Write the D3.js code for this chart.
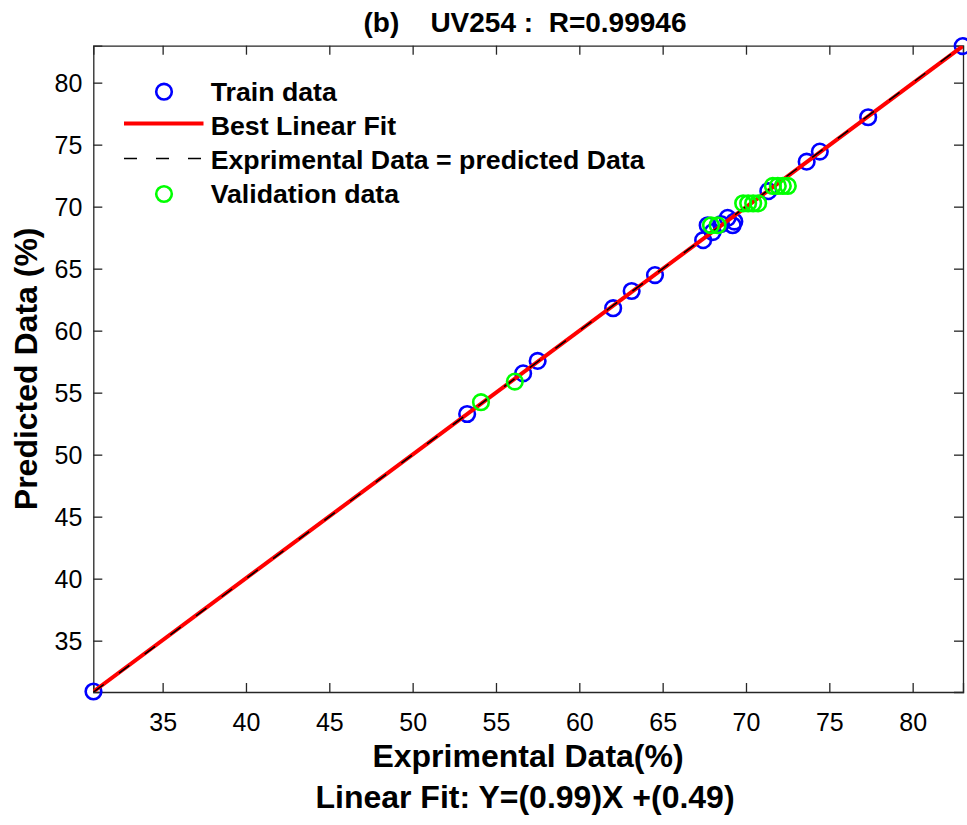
<!DOCTYPE html>
<html>
<head>
<meta charset="utf-8">
<script src="https://cdn.jsdelivr.net/npm/d3@7"></script>
<style>
  html, body { margin: 0; padding: 0; background: #fff; }
  svg { display: block; font-family: "Liberation Sans", Arial, sans-serif; }
</style>
</head>
<body>
<svg id="chart" width="967" height="825"></svg>
<script>
// ---- data ----
const trainX = [30.85, 53.27, 56.63, 57.50, 62.03, 63.14, 64.54, 67.43, 67.70, 68.00, 68.50, 68.90, 69.20, 69.30, 71.34, 73.64, 74.43, 77.33, 83.00];
const trainY = [30.90, 53.28, 56.56, 57.56, 61.81, 63.20, 64.48, 67.30, 68.50, 67.95, 68.60, 69.10, 68.50, 68.80, 71.25, 73.63, 74.44, 77.21, 82.95];
const validX = [54.10, 56.13, 67.90, 68.30, 69.83, 70.13, 70.43, 70.73, 71.61, 71.91, 72.21, 72.51];
const validY = [54.23, 55.89, 68.50, 68.50, 70.27, 70.27, 70.27, 70.27, 71.67, 71.67, 71.67, 71.67];
const fitCoef = [0.998, 0.11];          // slope, intercept of the drawn fit line
const xTicks = [35, 40, 45, 50, 55, 60, 65, 70, 75, 80];
const yTicks = [35, 40, 45, 50, 55, 60, 65, 70, 75, 80];
const xDomain = [30.84, 83.02];
const yDomain = [30.86, 82.98];
const legendLabels = ["Train data", "Best Linear Fit", "Exprimental Data = predicted Data", "Validation data"];
const titleText = "(b)    UV254 :  R=0.99946";
const xLabel = "Exprimental Data(%)";
const fitLabel = "Linear Fit: Y=(0.99)X +(0.49)";
const yLabel = "Predicted Data (%)";

// ---- layout ----
const L = 93.3, R = 963, T = 45.7, B = 692;
const svg = d3.select("#chart");
const x = d3.scaleLinear().domain(xDomain).range([L, R]);
const y = d3.scaleLinear().domain(yDomain).range([B, T]);
const axisColor = "#262626";
const tickLen = 9;
const dash = "13,19";

svg.append("defs").append("clipPath").attr("id", "clip")
  .append("rect").attr("x", L).attr("y", T).attr("width", R - L).attr("height", B - T);

// axes
const gx = svg.append("g").attr("transform", `translate(0,${B})`)
  .call(d3.axisBottom(x).tickValues(xTicks).tickSize(-tickLen).tickPadding(0).tickFormat(d3.format("d")));
const gxTop = svg.append("g").attr("transform", `translate(0,${T})`)
  .call(d3.axisTop(x).tickValues(xTicks).tickSize(-tickLen).tickFormat(""));
const gy = svg.append("g").attr("transform", `translate(${L},0)`)
  .call(d3.axisLeft(y).tickValues(yTicks).tickSize(-tickLen).tickPadding(0).tickFormat(d3.format("d")));
const gyR = svg.append("g").attr("transform", `translate(${R},0)`)
  .call(d3.axisRight(y).tickValues(yTicks).tickSize(-tickLen).tickFormat(""));

[gx, gxTop, gy, gyR].forEach(g => {
  g.select(".domain").attr("stroke", axisColor).attr("stroke-width", 1.3);
  g.selectAll(".tick line").attr("stroke", axisColor).attr("stroke-width", 1.3);
  g.selectAll(".tick text").attr("fill", "#000").style("font-size", "25px").style("font-family", "Liberation Sans, Arial, sans-serif");
});
gx.selectAll(".tick text").attr("y", 38.5).attr("dy", 0);
gy.selectAll(".tick text").attr("x", -11).attr("dy", "0.36em");

// train circles (markers not clipped, as in the reference)
svg.append("g").selectAll("circle").data(trainX.map((d, i) => [d, trainY[i]])).join("circle")
  .attr("cx", d => x(d[0])).attr("cy", d => y(d[1])).attr("r", 7.8)
  .attr("fill", "none").attr("stroke", "#0000ff").attr("stroke-width", 2.6);

// lines on top of train markers
const lines = svg.append("g").attr("clip-path", "url(#clip)");
const fx0 = d3.min(trainX), fx1 = d3.max(trainX);
lines.append("line")
  .attr("x1", x(fx0)).attr("y1", y(fitCoef[0] * fx0 + fitCoef[1]))
  .attr("x2", x(fx1)).attr("y2", y(fitCoef[0] * fx1 + fitCoef[1]))
  .attr("stroke", "#ff0000").attr("stroke-width", 4);
lines.append("line")
  .attr("x1", x(xDomain[0])).attr("y1", y(xDomain[0]))
  .attr("x2", x(xDomain[1])).attr("y2", y(xDomain[1]))
  .attr("stroke", "#000").attr("stroke-width", 1.5).attr("stroke-dasharray", dash);

// validation circles
svg.append("g").selectAll("circle").data(validX.map((d, i) => [d, validY[i]])).join("circle")
  .attr("cx", d => x(d[0])).attr("cy", d => y(d[1])).attr("r", 7.8)
  .attr("fill", "none").attr("stroke", "#00ff00").attr("stroke-width", 2.6);

// legend
const lg = svg.append("g");
const rowY = [91.7, 125.5, 159.5, 194];
const textX = 210.7;
lg.append("circle").attr("cx", 164).attr("cy", rowY[0]).attr("r", 7.8)
  .attr("fill", "none").attr("stroke", "#0000ff").attr("stroke-width", 2.6);
lg.append("line").attr("x1", 124).attr("x2", 203.5).attr("y1", rowY[1] - 2).attr("y2", rowY[1] - 2)
  .attr("stroke", "#ff0000").attr("stroke-width", 4);
lg.append("line").attr("x1", 124).attr("x2", 203.5).attr("y1", rowY[2] - 1).attr("y2", rowY[2] - 1)
  .attr("stroke", "#000").attr("stroke-width", 1.5).attr("stroke-dasharray", dash);
lg.append("circle").attr("cx", 164).attr("cy", rowY[3]).attr("r", 7.8)
  .attr("fill", "none").attr("stroke", "#00ff00").attr("stroke-width", 2.6);
lg.selectAll("text").data(legendLabels).join("text")
  .attr("x", textX).attr("y", (d, i) => rowY[i] + 9)
  .style("font-size", "26.7px").style("font-weight", "bold").attr("fill", "#000")
  .text(d => d);

// titles
svg.append("text").attr("x", 525).attr("y", 32).attr("text-anchor", "middle")
  .style("font-size", "28px").style("font-weight", "bold").style("white-space", "pre")
  .attr("xml:space", "preserve").text(titleText);
svg.append("text").attr("x", 528).attr("y", 767).attr("text-anchor", "middle")
  .style("font-size", "32px").style("font-weight", "bold").text(xLabel);
svg.append("text").attr("x", 525).attr("y", 808).attr("text-anchor", "middle")
  .style("font-size", "32px").style("font-weight", "bold").text(fitLabel);
svg.append("text").attr("transform", `translate(37,${(T + B) / 2}) rotate(-90)`).attr("text-anchor", "middle")
  .style("font-size", "32px").style("font-weight", "bold").text(yLabel);
</script>
</body>
</html>
